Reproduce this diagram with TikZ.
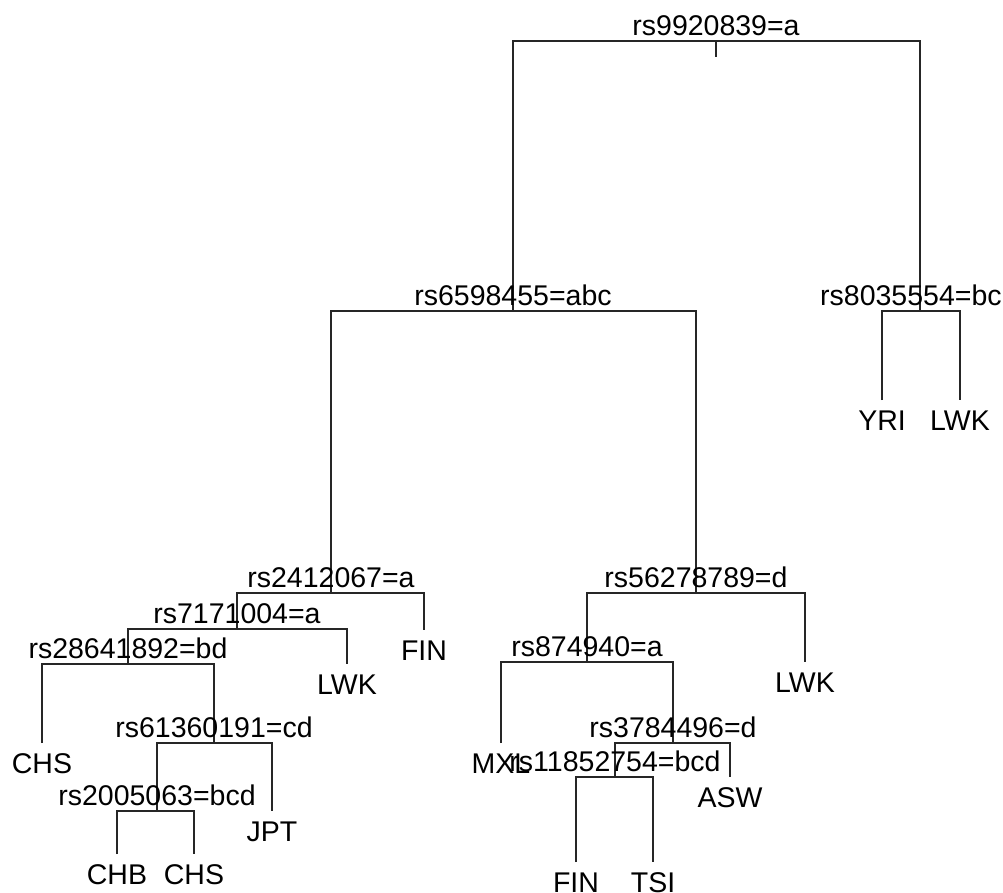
\documentclass[tikz,border=0pt]{standalone}
\usepackage{fontspec}
\setmainfont{Liberation Sans}
\begin{document}
\begin{tikzpicture}[x=1pt,y=-1pt,
  branch/.style={line width=1.5pt,draw=black!85},
  splitlabel/.style={anchor=base,inner sep=0pt,font=\fontsize{28.5}{30}\selectfont},
  leaflabel/.style={anchor=base,inner sep=0pt,font=\fontsize{28.5}{30}\selectfont}]
\clip (0,0) rectangle (1003,893);
\fill[white] (0,0) rectangle (1003,893);
% split points
\coordinate (R) at (716,41);
\coordinate (Rt) at (716,57);
\coordinate (A) at (513,311);
\coordinate (B) at (920,311);
\coordinate (C) at (331,593);
\coordinate (D) at (696,593);
\coordinate (E) at (237,629);
\coordinate (F) at (128,664);
\coordinate (G) at (214,743);
\coordinate (H) at (157,811);
\coordinate (I) at (587,662);
\coordinate (J) at (673,743);
\coordinate (K) at (615,777);
% leaf ends
\coordinate (lYRI) at (882,400);
\coordinate (lLWKa) at (960,400);
\coordinate (lFINa) at (424,630);
\coordinate (lLWKb) at (347,664);
\coordinate (lCHSa) at (42,743);
\coordinate (lJPT) at (272,811);
\coordinate (lCHB) at (117,854);
\coordinate (lCHSb) at (194,854);
\coordinate (lLWKc) at (805,662);
\coordinate (lMXL) at (501,743);
\coordinate (lASW) at (730,777);
\coordinate (lFINb) at (576,862);
\coordinate (lTSI) at (653,862);
% branches
\draw[branch] (R) -- (Rt);
\draw[branch] (A) |- (R) -| (B);
\draw[branch] (lYRI) |- (B) -| (lLWKa);
\draw[branch] (C) |- (A) -| (D);
\draw[branch] (E) |- (C) -| (lFINa);
\draw[branch] (F) |- (E) -| (lLWKb);
\draw[branch] (lCHSa) |- (F) -| (G);
\draw[branch] (H) |- (G) -| (lJPT);
\draw[branch] (lCHB) |- (H) -| (lCHSb);
\draw[branch] (I) |- (D) -| (lLWKc);
\draw[branch] (lMXL) |- (I) -| (J);
\draw[branch] (K) |- (J) -| (lASW);
\draw[branch] (lFINb) |- (K) -| (lTSI);
% split labels
\node[splitlabel] (tR) at ([yshift=5.5pt]R) {rs9920839=a};
\node[splitlabel] (tA) at ([yshift=5.5pt]A) {rs6598455=abc};
\node[splitlabel,anchor=base west] (tB) at (820,305.5) {rs8035554=bc};
\node[splitlabel] (tC) at ([yshift=5.5pt]C) {rs2412067=a};
\node[splitlabel] (tD) at ([yshift=5.5pt]D) {rs56278789=d};
\node[splitlabel] (tE) at ([yshift=5.5pt]E) {rs7171004=a};
\node[splitlabel] (tF) at ([yshift=5.5pt]F) {rs28641892=bd};
\node[splitlabel] (tG) at ([yshift=5.5pt]G) {rs61360191=cd};
\node[splitlabel] (tH) at ([yshift=5.5pt]H) {rs2005063=bcd};
\node[splitlabel] (tI) at ([yshift=5.5pt]I) {rs874940=a};
\node[splitlabel] (tJ) at ([yshift=5.5pt]J) {rs3784496=d};
\node[splitlabel] (tK) at ([yshift=5.5pt]K) {rs11852754=bcd};
% leaf labels
\node[leaflabel] (nYRI) at ([yshift=-30pt]lYRI) {YRI};
\node[leaflabel] (nLWKa) at ([yshift=-30pt]lLWKa) {LWK};
\node[leaflabel] (nFINa) at ([yshift=-30pt]lFINa) {FIN};
\node[leaflabel] (nLWKb) at ([yshift=-30pt]lLWKb) {LWK};
\node[leaflabel] (nCHSa) at ([yshift=-30pt]lCHSa) {CHS};
\node[leaflabel] (nJPT) at ([yshift=-30pt]lJPT) {JPT};
\node[leaflabel] (nCHB) at ([yshift=-30pt]lCHB) {CHB};
\node[leaflabel] (nCHSb) at ([yshift=-30pt]lCHSb) {CHS};
\node[leaflabel] (nLWKc) at ([yshift=-30pt]lLWKc) {LWK};
\node[leaflabel] (nMXL) at ([yshift=-30pt]lMXL) {MXL};
\node[leaflabel] (nASW) at ([yshift=-30pt]lASW) {ASW};
\node[leaflabel] (nFINb) at ([yshift=-30pt]lFINb) {FIN};
\node[leaflabel] (nTSI) at ([yshift=-30pt]lTSI) {TSI};
\end{tikzpicture}
\end{document}
